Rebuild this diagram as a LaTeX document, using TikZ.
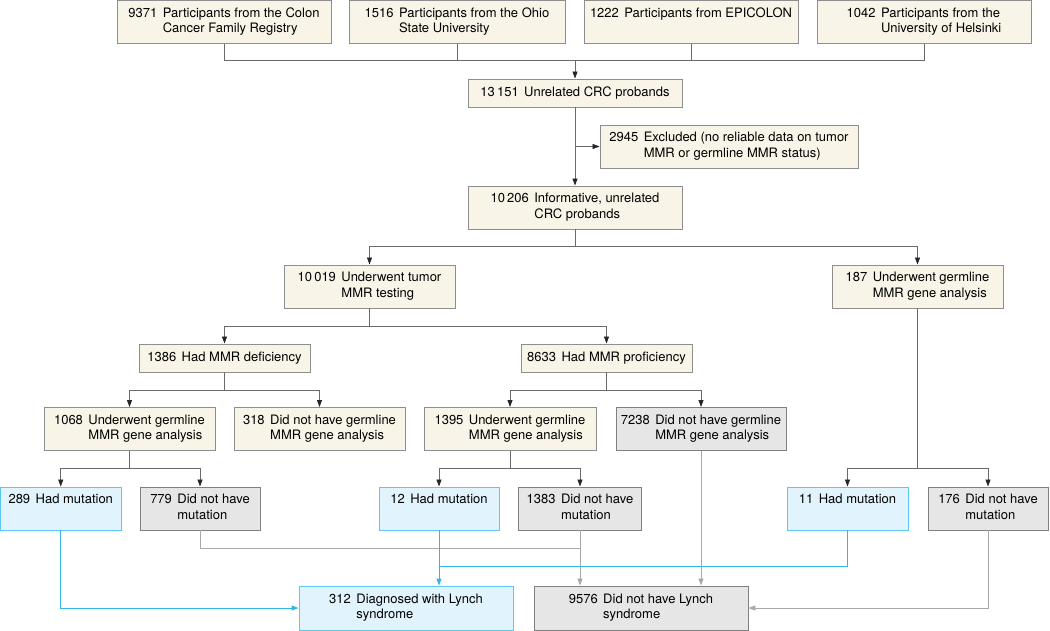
\documentclass[tikz,border=0pt]{standalone}
\usepackage{fontspec}
\setmainfont{TeX Gyre Heros}
\usetikzlibrary{arrows.meta}
\definecolor{beigefill}{HTML}{F8F4E7}
\definecolor{beigeline}{HTML}{8E8E8E}
\definecolor{grayfill}{HTML}{E6E6E7}
\definecolor{grayline}{HTML}{808080}
\definecolor{bluefill}{HTML}{E1F3FC}
\definecolor{blueline}{HTML}{5CC8F2}
\definecolor{bluearrow}{HTML}{33B5EC}
\definecolor{darkconn}{HTML}{6A6A6A}
\definecolor{lightconn}{HTML}{A8A8A8}
\definecolor{darktip}{HTML}{262626}
\newcommand\lbl[2]{#1\hspace{0.42em}\begin{tabular}[t]{@{}l@{}}#2\end{tabular}}
\tikzset{
  box/.style={draw=beigeline, fill=beigefill, line width=0.9pt, inner sep=0pt,
    font=\fontsize{13}{15.5}\selectfont, align=left},
  graybox/.style={box, draw=grayline, fill=grayfill},
  bluebox/.style={box, draw=blueline, fill=bluefill},
  tall/.style={minimum height=43pt},
  short/.style={minimum height=28pt},
  conn/.style={draw=darkconn, line width=0.8pt},
  arr/.style={conn, -{Triangle[length=7pt,width=5pt,color=darktip]}},
  lconn/.style={draw=lightconn, line width=0.8pt},
  larr/.style={lconn, -{Triangle[length=7pt,width=5pt,color=lightconn]}},
  bconn/.style={draw=bluearrow, line width=1pt},
  barr/.style={bconn, -{Triangle[length=7pt,width=5pt,color=bluearrow]}}
}
\begin{document}
\begin{tikzpicture}[x=1pt, y=-1pt]
\useasboundingbox (0,0) rectangle (1050,631);
% top row
\node[box, tall, minimum width=214pt] (b1) at (224,21.8) {\lbl{9371}{Participants from the Colon\\Cancer Family Registry}};
\node[box, tall, minimum width=216pt] (b2) at (457,21.8) {\lbl{1516}{Participants from the Ohio\\State University}};
\node[box, tall, minimum width=214pt] (b3) at (691,21.8) {\lbl{1222}{Participants from EPICOLON\\\strut}};
\node[box, tall, minimum width=214pt] (b4) at (924,21.8) {\lbl{1042}{Participants from the\\University of Helsinki}};
% middle
\node[box, short, minimum width=214pt] (p13151) at (575,93) {\lbl{13\,151}{Unrelated CRC probands}};
\node[box, tall, minimum width=258pt] (excl) at (729,146.5) {\lbl{2945}{Excluded (no reliable data on tumor\\MMR or germline MMR status)}};
\node[box, tall, minimum width=214pt] (p10206) at (575,207.5) {\lbl{10\,206}{Informative, unrelated\\CRC probands}};
\node[box, tall, minimum width=171pt] (p10019) at (369.5,286.5) {\lbl{10\,019}{Underwent tumor\\MMR testing}};
\node[box, tall, minimum width=171pt] (p187) at (917.5,286.5) {\lbl{187}{Underwent germline\\MMR gene analysis}};
\node[box, short, minimum width=171pt] (p1386) at (224.5,358) {\lbl{1386}{Had MMR deficiency}};
\node[box, short, minimum width=171pt] (p8633) at (606.5,358) {\lbl{8633}{Had MMR proficiency}};
\node[box, tall, minimum width=171pt] (p1068) at (129.5,429) {\lbl{1068}{Underwent germline\\MMR gene analysis}};
\node[box, tall, minimum width=171pt] (p318) at (319.5,429) {\lbl{318}{Did not have germline\\MMR gene analysis}};
\node[box, tall, minimum width=172pt] (p1395) at (510,429) {\lbl{1395}{Underwent germline\\MMR gene analysis}};
\node[graybox, tall, minimum width=170pt] (p7238) at (701,429) {\lbl{7238}{Did not have germline\\MMR gene analysis}};
% mutation row
\node[bluebox, tall, minimum width=120.5pt] (p289) at (60.75,508.5) {\lbl{289}{Had mutation\\\strut}};
\node[graybox, tall, minimum width=120pt] (p779) at (200,508.5) {\lbl{779}{Did not have\\mutation}};
\node[bluebox, tall, minimum width=120pt] (p12) at (439,508.5) {\lbl{12}{Had mutation\\\strut}};
\node[graybox, tall, minimum width=123pt] (p1383) at (580,508.5) {\lbl{1383}{Did not have\\mutation}};
\node[bluebox, tall, minimum width=121pt] (p11) at (847.5,508.5) {\lbl{11}{Had mutation\\\strut}};
\node[graybox, tall, minimum width=120pt] (p176) at (988,508.5) {\lbl{176}{Did not have\\mutation}};
% results
\node[bluebox, minimum width=214pt, minimum height=44pt] (p312) at (406,608) {\lbl{312}{Diagnosed with Lynch\\syndrome}};
\node[graybox, minimum width=214pt, minimum height=44pt] (p9576) at (641,608) {\lbl{9576}{Did not have Lynch\\syndrome}};
% connectors: top
\coordinate (jt) at ([yshift=18pt]p13151.north);
\draw[conn] (b1.south) |- (jt);
\draw[conn] (b2.south) |- (jt);
\draw[conn] (b3.south) |- (jt);
\draw[conn] (b4.south) |- (jt);
\draw[arr] (jt) -- (p13151.north);
\draw[arr] (p13151.south) -- (p10206.north);
\draw[arr] (p13151.south |- excl.west) -- (excl.west);
% branches
\draw[arr] (p10206.south) |- ([yshift=18pt]p10019.north) -- (p10019.north);
\draw[arr] (p10206.south) |- ([yshift=18pt]p187.north) -- (p187.north);
\draw[arr] (p10019.south) |- ([yshift=17pt]p1386.north) -- (p1386.north);
\draw[arr] (p10019.south) |- ([yshift=17pt]p8633.north) -- (p8633.north);
\draw[arr] (p1386.south) |- ([yshift=17pt]p1068.north) -- (p1068.north);
\draw[arr] (p1386.south) |- ([yshift=17pt]p318.north) -- (p318.north);
\draw[arr] (p8633.south) |- ([yshift=17pt]p1395.north) -- (p1395.north);
\draw[arr] (p8633.south) |- ([yshift=17pt]p7238.north) -- (p7238.north);
\draw[arr] (p1068.south) |- ([yshift=18pt]p289.north) -- (p289.north);
\draw[arr] (p1068.south) |- ([yshift=18pt]p779.north) -- (p779.north);
\draw[arr] (p1395.south) |- ([yshift=18pt]p12.north) -- (p12.north);
\draw[arr] (p1395.south) |- ([yshift=18pt]p1383.north) -- (p1383.north);
\draw[arr] (p187.south) |- ([yshift=18pt]p11.north) -- (p11.north);
\draw[arr] (p187.south) |- ([yshift=18pt]p176.north) -- (p176.north);
% lower gray connectors
\coordinate (j779) at ([yshift=-18pt]p1383.south);
\draw[lconn] (p779.south) |- (j779);
\draw[larr] (p1383.south) -- (p1383.south |- p9576.north);
\draw[larr] (p7238.south) -- (p7238.south |- p9576.north);
\draw[larr] (p176.south) |- (p9576.east);
% blue connectors
\coordinate (j11) at ([yshift=-36pt]p12.south);
\draw[bconn] (p11.south) |- (j11);
\draw[barr] (p12.south) -- (p12.south |- p312.north);
\draw[barr] (p289.south) |- (p312.west);
\end{tikzpicture}
\end{document}
